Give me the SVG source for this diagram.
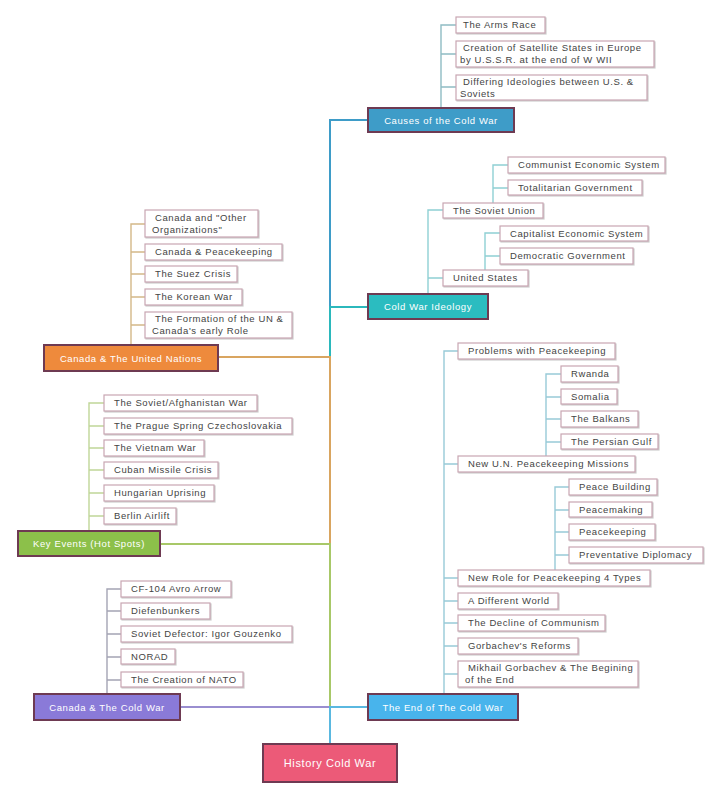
<svg xmlns="http://www.w3.org/2000/svg" width="720" height="802" viewBox="0 0 720 802">
<style>
text{font-family:"Liberation Sans",Arial,sans-serif;}
.c rect{fill:#fff;stroke:#c8a6b2;stroke-width:1.2;filter:url(#sh);}
.c text{font-size:9.5px;fill:#444;letter-spacing:0.6px;}
.m rect{stroke:#6e3a52;stroke-width:2;}
.m text{font-size:9.5px;fill:#fff;letter-spacing:0.6px;}
.l{fill:none;stroke-width:1.4;}
.t{fill:none;stroke-width:2;}
</style>
<defs><filter id="sh" x="-5%" y="-20%" width="115%" height="160%"><feDropShadow dx="1" dy="1" stdDeviation="0.6" flood-color="#999" flood-opacity="0.5"/></filter></defs>
<rect width="720" height="802" fill="#fff"/>
<g id="connectors">
<path class="t" stroke="#3e9cc8" d="M330,744V120H368"/>
<path class="t" stroke="#2bb8bc" d="M330,744V307H368"/>
<path class="t" stroke="#d9a560" d="M330,744V357H218"/>
<path class="t" stroke="#a8c868" d="M330,744V544H160"/>
<path class="t" stroke="#9a8ed0" d="M330,744V707H180"/>
<path class="t" stroke="#5ab8e0" d="M330,744V707H368"/>
<path class="l" stroke="#8fbcc4" d="M441,108V25H456M441,54H456M441,87H456"/>
<path class="l" stroke="#8fd0d4" d="M428,294V210H443M428,278H443M493,203V165H508M493,188H508M485,270V233H500M485,256H500"/>
<path class="l" stroke="#d4b888" d="M131,345V224H145M131,252H145M131,274H145M131,297H145M131,325H145"/>
<path class="l" stroke="#c0d698" d="M89,531V403H104M89,426H104M89,448H104M89,470H104M89,493H104M89,516H104"/>
<path class="l" stroke="#a4a4b4" d="M107,694V589H121M107,611H121M107,634H121M107,657H121M107,680H121"/>
<path class="l" stroke="#98cad8" d="M444,694V351H458M444,464H458M444,578H458M444,601H458M444,623H458M444,646H458M444,674H458M546,456V374H561M546,397H561M546,419H561M546,442H561M555,570V487H569M555,510H569M555,532H569M555,555H569"/>
</g>
<g id="root" class="m"><rect x="263" y="744" width="134" height="38" fill="#ec5a78"/><text x="330" y="767" text-anchor="middle" font-size="11" style="font-size:11px">History Cold War</text></g>
<g id="causes" class="m"><rect x="368" y="108" width="146" height="24" fill="#3e9cc8"/><text x="441" y="124" text-anchor="middle">Causes of the Cold War</text></g>
<g id="ideology" class="m"><rect x="368" y="294" width="120" height="25" fill="#2bbcc0"/><text x="428" y="310" text-anchor="middle">Cold War Ideology</text></g>
<g id="canada-un" class="m"><rect x="44" y="345" width="174" height="26" fill="#ee8a3c"/><text x="131" y="362" text-anchor="middle">Canada &amp; The United Nations</text></g>
<g id="key-events" class="m"><rect x="18" y="531" width="142" height="25" fill="#8cc04a"/><text x="89" y="547" text-anchor="middle">Key Events (Hot Spots)</text></g>
<g id="canada-cw" class="m"><rect x="34" y="694" width="146" height="26" fill="#8a7ad8"/><text x="107" y="711" text-anchor="middle">Canada &amp; The Cold War</text></g>
<g id="end-cw" class="m"><rect x="368" y="694" width="150" height="26" fill="#48b4ec"/><text x="443" y="711" text-anchor="middle">The End of The Cold War</text></g>
<g id="arms" class="c"><rect x="456" y="17" width="89" height="16"/><text x="463" y="28">The Arms Race</text></g>
<g id="satellite" class="c"><rect x="456" y="41" width="198" height="26"/><text x="463" y="51">Creation of Satellite States in Europe</text><text x="460" y="63">by U.S.S.R. at the end of W WII</text></g>
<g id="differing" class="c"><rect x="456" y="75" width="191" height="25"/><text x="463" y="85">Differing Ideologies between U.S. &amp;</text><text x="460" y="97">Soviets</text></g>
<g id="soviet-union" class="c"><rect x="443" y="203" width="100" height="15"/><text x="453" y="214">The Soviet Union</text></g>
<g id="communist" class="c"><rect x="508" y="157" width="157" height="16"/><text x="518" y="168">Communist Economic System</text></g>
<g id="totalitarian" class="c"><rect x="508" y="180" width="134" height="15"/><text x="518" y="191">Totalitarian Government</text></g>
<g id="us" class="c"><rect x="443" y="270" width="85" height="16"/><text x="453" y="281">United States</text></g>
<g id="capitalist" class="c"><rect x="500" y="226" width="148" height="15"/><text x="510" y="237">Capitalist Economic System</text></g>
<g id="democratic" class="c"><rect x="500" y="248" width="133" height="16"/><text x="510" y="259">Democratic Government</text></g>
<g id="other-org" class="c"><rect x="145" y="210" width="113" height="27"/><text x="155" y="221">Canada and "Other</text><text x="152" y="233">Organizations"</text></g>
<g id="peacekeeping-ca" class="c"><rect x="145" y="244" width="137" height="16"/><text x="155" y="255">Canada &amp; Peacekeeping</text></g>
<g id="suez" class="c"><rect x="145" y="266" width="92" height="16"/><text x="155" y="277">The Suez Crisis</text></g>
<g id="korean" class="c"><rect x="145" y="289" width="97" height="16"/><text x="155" y="300">The Korean War</text></g>
<g id="formation" class="c"><rect x="145" y="312" width="147" height="26"/><text x="155" y="322">The Formation of the UN &amp;</text><text x="152" y="334">Canada's early Role</text></g>
<g id="afghan" class="c"><rect x="104" y="395" width="153" height="16"/><text x="114" y="406">The Soviet/Afghanistan War</text></g>
<g id="prague" class="c"><rect x="104" y="418" width="188" height="16"/><text x="114" y="429">The Prague Spring  Czechoslovakia</text></g>
<g id="vietnam" class="c"><rect x="104" y="440" width="100" height="16"/><text x="114" y="451">The Vietnam War</text></g>
<g id="cuban" class="c"><rect x="104" y="462" width="114" height="16"/><text x="114" y="473">Cuban Missile Crisis</text></g>
<g id="hungarian" class="c"><rect x="104" y="485" width="110" height="16"/><text x="114" y="496">Hungarian Uprising</text></g>
<g id="berlin" class="c"><rect x="104" y="508" width="72" height="16"/><text x="114" y="519">Berlin Airlift</text></g>
<g id="cf104" class="c"><rect x="121" y="581" width="110" height="16"/><text x="131" y="592">CF-104 Avro Arrow</text></g>
<g id="diefen" class="c"><rect x="121" y="603" width="89" height="16"/><text x="131" y="614">Diefenbunkers</text></g>
<g id="gouzenko" class="c"><rect x="121" y="626" width="171" height="16"/><text x="131" y="637">Soviet Defector: Igor Gouzenko</text></g>
<g id="norad" class="c"><rect x="121" y="649" width="54" height="15"/><text x="131" y="660">NORAD</text></g>
<g id="nato" class="c"><rect x="121" y="672" width="122" height="15"/><text x="131" y="683">The Creation of NATO</text></g>
<g id="problems" class="c"><rect x="458" y="343" width="157" height="16"/><text x="468" y="354">Problems with Peacekeeping</text></g>
<g id="rwanda" class="c"><rect x="561" y="366" width="57" height="16"/><text x="571" y="377">Rwanda</text></g>
<g id="somalia" class="c"><rect x="561" y="389" width="56" height="15"/><text x="571" y="400">Somalia</text></g>
<g id="balkans" class="c"><rect x="561" y="411" width="77" height="16"/><text x="571" y="422">The Balkans</text></g>
<g id="gulf" class="c"><rect x="561" y="434" width="97" height="15"/><text x="571" y="445">The Persian Gulf</text></g>
<g id="new-un" class="c"><rect x="458" y="456" width="177" height="16"/><text x="468" y="467">New U.N. Peacekeeping Missions</text></g>
<g id="building" class="c"><rect x="569" y="479" width="88" height="16"/><text x="579" y="490">Peace Building</text></g>
<g id="making" class="c"><rect x="569" y="502" width="83" height="15"/><text x="579" y="513">Peacemaking</text></g>
<g id="keeping" class="c"><rect x="569" y="524" width="86" height="16"/><text x="579" y="535">Peacekeeping</text></g>
<g id="preventative" class="c"><rect x="569" y="547" width="134" height="16"/><text x="579" y="558">Preventative Diplomacy</text></g>
<g id="new-role" class="c"><rect x="458" y="570" width="192" height="16"/><text x="468" y="581">New Role for Peacekeeping  4 Types</text></g>
<g id="different" class="c"><rect x="458" y="593" width="100" height="16"/><text x="468" y="604">A Different World</text></g>
<g id="decline" class="c"><rect x="458" y="615" width="147" height="16"/><text x="468" y="626">The Decline of Communism</text></g>
<g id="reforms" class="c"><rect x="458" y="638" width="120" height="16"/><text x="468" y="649">Gorbachev's Reforms</text></g>
<g id="mikhail" class="c"><rect x="458" y="661" width="180" height="26"/><text x="468" y="671">Mikhail Gorbachev &amp; The Begining</text><text x="465" y="683">of the End</text></g>
</svg>
